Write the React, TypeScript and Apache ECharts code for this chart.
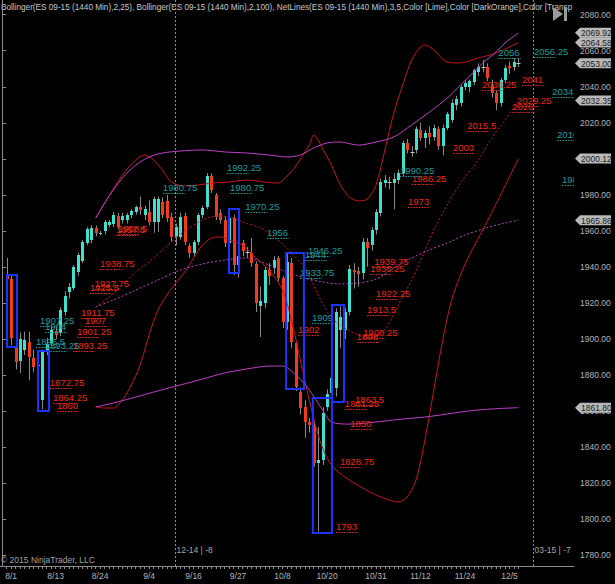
import { useEffect, useRef } from "react";
import * as echarts from "echarts";

// ---------- layout of the time axis ----------
const SLOT_COUNT = 129; // bar slots across the plot width
const FIRST_BAR_SLOT = 1; // slot of the first bar
const DATE_LABELS = ["8/1", "8/13", "8/24", "9/4", "9/16", "9/27", "10/8", "10/20", "10/31", "11/12", "11/24", "12/5"];
const DATE_LABEL_SLOTS = [2, 12, 22, 33, 43, 53, 63, 73, 84, 94, 104, 114];

// ---------- price axis ----------
const Y_MIN = 1773.89;
const Y_MAX = 2088.17;
const Y_TICKS = [1780, 1800, 1820, 1840, 1860, 1880, 1900, 1920, 1940, 1960, 1980, 2000, 2020, 2040, 2060, 2080];

// ---------- daily bars (ES 09-15, back-adjusted) ----------
const OPEN = [1935, 1933, 1896, 1887.5, 1894, 1898, 1889.5, 1885, 1866, 1892.5, 1897.5, 1904.5, 1903, 1915, 1926, 1928.5, 1937, 1943, 1953, 1955,
  1961.5, 1958.5, 1960, 1963, 1964, 1968, 1966, 1966, 1969, 1970.5, 1973, 1969, 1970.5, 1965, 1964.9, 1976, 1976.5, 1967.7, 1957, 1956.6,
  1968.2, 1951.6, 1947.7, 1953.8, 1968.8, 1973, 1990.4, 1979.9, 1969.9, 1966, 1953.2, 1967.1, 1941, 1953, 1948.5, 1947.7, 1941.6, 1918, 1919.9, 1938,
  1939.4, 1944.9, 1933.8, 1909.4, 1942.1, 1897.7, 1870.5, 1862.2, 1853.8, 1852.2, 1831, 1832.7, 1862.2, 1870, 1872.7, 1905, 1905, 1914.9, 1938.2, 1937.7,
  1936.6, 1953.8, 1952, 1960.5, 1970, 1986.5, 1987, 1986.5, 1988.2, 1992, 2008.8, 2003.8, 2004.9, 2016, 2011.5, 2014.3, 2012, 2016.5, 2007, 2017,
  2021.5, 2030, 2031, 2039.8, 2039.8, 2042.6, 2048, 2051, 2051, 2041, 2036.5, 2031, 2043.7, 2051.5, 2051, 2053.2];
const HIGH = [1945, 1935, 1900, 1903.5, 1904, 1904, 1894, 1892, 1894, 1900.5, 1907.5, 1907, 1917.5, 1926.5, 1931, 1941, 1948, 1955, 1962, 1963,
  1963, 1960, 1966, 1966, 1970.5, 1970, 1970, 1970, 1972, 1974, 1979, 1974, 1977, 1979, 1979, 1978.5, 1980, 1970, 1964, 1970,
  1970, 1953, 1955, 1970, 1974, 1992.1, 1992, 1981, 1972, 1968, 1972.1, 1969, 1950, 1955, 1951, 1956, 1943, 1929, 1940, 1942,
  1946, 1946, 1935, 1947.7, 1945, 1899, 1873, 1866, 1856, 1854, 1851, 1862, 1872, 1880, 1917, 1918, 1917, 1941, 1942, 1940,
  1956, 1956, 1962, 1972, 1989, 1991, 1990, 1992, 1994, 2010, 2011, 2007, 2018, 2020, 2016, 2018, 2019, 2018, 2019, 2026,
  2033, 2035, 2041, 2043.5, 2044, 2050, 2053, 2055, 2053, 2044, 2038, 2045, 2052, 2054, 2056, 2056];
const LOW = [1931.5, 1896.5, 1883, 1881, 1891, 1877, 1881.5, 1873, 1861, 1891, 1896, 1900, 1901.5, 1913, 1922.5, 1927, 1935, 1942, 1952, 1953,
  1957, 1957.5, 1958, 1962, 1962, 1961, 1964, 1964, 1967, 1969, 1969, 1966, 1963, 1959, 1959.3, 1967, 1965, 1954, 1952, 1955,
  1952, 1945, 1946, 1952, 1967, 1972, 1981, 1966, 1964, 1951, 1951, 1935.5, 1934, 1946, 1945, 1940, 1914.9, 1901, 1917, 1930,
  1936, 1932, 1906, 1905, 1895, 1871, 1858, 1845, 1848, 1829, 1793, 1830, 1860, 1866, 1868, 1895, 1900, 1913, 1928, 1929,
  1933, 1940, 1949, 1958, 1968, 1984, 1983, 1972, 1986, 1990, 2003, 2001, 2003, 2010, 2006, 2008, 2010, 2005, 2002, 2016,
  2020, 2027, 2029, 2038, 2037, 2041, 2046, 2048, 2043, 2034, 2027, 2029, 2042, 2047, 2049, 2051];
const CLOSE = [1933, 1900.5, 1887, 1900, 1899.5, 1890, 1884.5, 1885.5, 1892.5, 1897, 1905, 1902, 1916, 1924, 1928.8, 1940, 1946.5, 1954, 1961, 1961.5,
  1959, 1958.9, 1965, 1965, 1969, 1962, 1968, 1969, 1971, 1973, 1971.5, 1972, 1965, 1977.5, 1977.7, 1968.8, 1967.1, 1956.6, 1962, 1967.7,
  1953.8, 1947.7, 1953.8, 1968.8, 1972.7, 1990.4, 1982.7, 1967.7, 1966, 1953.2, 1967.1, 1941, 1946, 1949, 1948.3, 1942.1, 1919.9, 1921, 1938.2, 1935,
  1943.8, 1933.8, 1909.4, 1942.7, 1898.3, 1873.3, 1861.6, 1853.8, 1852.2, 1831, 1832.7, 1858.8, 1869.4, 1878.3, 1914.9, 1912, 1914.9, 1938.8, 1937.1, 1936,
  1953.8, 1950.5, 1960.5, 1970.5, 1987.1, 1988.2, 1987.3, 1988.5, 1992.1, 2008.8, 2004.9, 2004, 2016.5, 2011.5, 2014.3, 2012.1, 2017, 2007.1, 2017, 2024.9,
  2031, 2033, 2039.8, 2042, 2043, 2049.3, 2051, 2051.2, 2045, 2036.5, 2031, 2043.7, 2050.4, 2050.4, 2053.7, 2053];

// ---------- Bollinger(25) and Bollinger(100): [slot, value] ----------
const BB25_UPPER = [[21, 1967.1], [24, 1979.3], [27, 1991.0], [30, 1999.3], [32, 2002.1], [34, 1999.3], [36, 1993.8], [38, 1987.1], [41, 1984.9], [44, 1985.4], [47, 1986.5], [51, 1987.1], [55, 1988.2], [59, 1987.1], [62, 1986.5], [64, 1990.4], [66, 1996.0], [68, 2003.8], [69, 2007.6], [70, 2013.2], [71, 2010.4], [72, 2005.5], [74, 1996.5], [76, 1985.4], [78, 1978.8], [80, 1976.6], [82, 1977.6], [84, 1985.4], [86, 2004.9], [88, 2025.4], [90, 2040.9], [92, 2054.8], [94, 2062.1], [95, 2063.2], [97, 2060.4], [100, 2053.7], [103, 2053.2], [107, 2056.0], [111, 2058.7], [116, 2064.58]];
const BB25_MID = [[21, 1917.7], [24, 1923.3], [27, 1929.9], [30, 1937.1], [33, 1942.7], [36, 1949.4], [39, 1956.0], [42, 1961.6], [45, 1966.0], [48, 1968.2], [51, 1967.7], [54, 1964.9], [58, 1961.6], [62, 1954.9], [65, 1947.7], [68, 1939.4], [71, 1924.4], [74, 1911.6], [77, 1906.0], [80, 1902.2], [83, 1900.5], [86, 1904.9], [89, 1918.8], [92, 1932.7], [95, 1949.4], [97, 1960.5], [100, 1974.3], [103, 1986.5], [107, 1999.3], [110, 2011.5], [113, 2021.5], [116, 2032.35]];
const BB25_LOWER = [[21, 1862.2], [23, 1861.6], [25, 1861.6], [27, 1866.1], [29, 1874.4], [31, 1885.5], [33, 1902.2], [35, 1916.0], [37, 1924.4], [39, 1931.0], [41, 1937.1], [43, 1944.9], [45, 1952.1], [47, 1956.0], [49, 1956.6], [51, 1954.9], [54, 1952.1], [57, 1944.9], [60, 1938.2], [63, 1927.1], [65, 1910.5], [67, 1888.3], [69, 1866.1], [71, 1846.6], [73, 1833.9], [75, 1827.2], [78, 1821.6], [81, 1817.2], [84, 1813.3], [87, 1810.5], [89, 1809.4], [91, 1812.2], [93, 1821.6], [95, 1843.9], [97, 1871.6], [99, 1899.4], [101, 1921.6], [103, 1935.5], [105, 1946.6], [108, 1960.5], [112, 1979.9], [116, 2000.12]];
const BB100_UPPER = [[21, 1967.1], [24, 1979.3], [27, 1989.3], [30, 1996.5], [33, 2001.0], [36, 2003.2], [40, 2004.3], [45, 2004.9], [50, 2003.8], [55, 2003.2], [60, 2002.1], [64, 2001.0], [67, 2002.1], [70, 2006.0], [73, 2008.8], [76, 2009.3], [80, 2007.6], [84, 2009.3], [88, 2012.1], [92, 2018.8], [96, 2026.0], [100, 2033.7], [103, 2041.0], [106, 2048.2], [108, 2053.2], [111, 2059.3], [113, 2064.3], [116, 2069.92]];
const BB100_MID = [[21, 1917.7], [25, 1921.6], [30, 1927.1], [35, 1932.7], [40, 1938.2], [45, 1941.6], [50, 1943.8], [55, 1944.9], [60, 1941.0], [64, 1937.1], [68, 1933.8], [72, 1931.6], [76, 1930.5], [80, 1931.0], [84, 1933.2], [88, 1939.4], [92, 1944.9], [96, 1949.4], [100, 1953.2], [104, 1957.7], [108, 1961.0], [112, 1963.8], [116, 1965.86]];
const BB100_LOWER = [[21, 1862.2], [25, 1864.4], [30, 1867.7], [35, 1871.1], [40, 1874.4], [45, 1877.7], [50, 1881.1], [55, 1883.3], [60, 1884.9], [63, 1884.9], [66, 1879.9], [69, 1871.6], [72, 1860.5], [74, 1853.8], [78, 1852.7], [82, 1853.3], [86, 1854.4], [90, 1855.5], [95, 1856.6], [100, 1858.3], [105, 1860.0], [110, 1861.1], [116, 1861.80]];

// ---------- NetLines: [start slot, price] ----------
const NET_RED = [[10.7, 1872.75], [11.4, 1864.25], [12.3, 1860], [15.9, 1893.25], [16.8, 1901.25], [18.6, 1907], [17.7, 1911.75], [19.7, 1925.5], [20.8, 1927.75], [22.0, 1938.75], [26.0, 1958.5], [25.6, 1957.5], [66.5, 1902], [79.3, 1863.5], [77.0, 1861.25], [78.2, 1850], [75.9, 1828.75], [75.0, 1793], [81.1, 1900.25], [79.7, 1898], [82.0, 1913.5], [84.0, 1922.25], [83.6, 1939.75], [82.7, 1936.25], [91.2, 1973], [92.1, 1986.25], [101.3, 2003], [104.5, 2015.5], [114.6, 2026], [115.7, 2029.25], [116.8, 2041], [107.8, 2038.25]];
const NET_TEAL = [[8.5, 1907.25], [9.6, 1904], [7.6, 1895.5], [9.6, 1893.25], [36.1, 1980.75], [51.2, 1980.75], [50.5, 1992.25], [54.6, 1970.25], [59.5, 1956], [68.7, 1946.25], [68.0, 1944], [66.9, 1933.75], [69.6, 1909], [89.4, 1990.25], [111.5, 2056], [119.5, 2056.25], [123.6, 2034.25], [124.7, 2010.25], [125.8, 1985.5]];

// ---------- drawn rectangles: [slot from, slot to, top price, bottom price] ----------
const BOXES = [[1.07, 3.32, 1935.5, 1895.5], [8.04, 10.5, 1893.3, 1860], [50.96, 53.2, 1972.1, 1936.6], [63.8, 67.8, 1947.7, 1872.2], [69.8, 74.1, 1867.2, 1792.2], [74.1, 76.8, 1918.8, 1865]];

// ---------- contract rollovers ----------
const ROLLOVER_SLOTS = [38.9, 119.3];
const ROLLOVER_TEXT = ["12-14 | -8", "03-15 | -7"];

const HEADER = "Bollinger(ES 09-15 (1440 Min),2,25), Bollinger(ES 09-15 (1440 Min),2,100), NetLines(ES 09-15 (1440 Min),3,5,Color [Lime],Color [DarkOrange],Color [Transparent]";

const FONT = "'Liberation Sans', Arial, sans-serif";
const NARROW = "'Liberation Sans Narrow', 'Liberation Sans', Arial, sans-serif";
const UP = "#40e0cc";
const DOWN = "#f03c1c";
const WICK = "#8a8a8a";
const RED_BB = "#c8141e";
const MAG_BB = "#c040c8";
const NET_RED_C = "#f02814";
const NET_TEAL_C = "#1e9c9c";
const AXIS_C = "#8c8c8c";
const LABEL_C = "#b4b4b4";

const last = (a: number[][]) => a[a.length - 1][1];
const MARKERS = [last(BB100_UPPER), last(BB25_UPPER), CLOSE[CLOSE.length - 1], last(BB25_MID), last(BB25_LOWER), last(BB100_MID), last(BB100_LOWER)];

const categories = Array.from({ length: SLOT_COUNT }, (_, i) => {
  const k = DATE_LABEL_SLOTS.indexOf(i);
  return k >= 0 ? DATE_LABELS[k] : "";
});

function renderCandle(_p: any, api: any) {
  const s = api.value(0);
  const o = api.value(1), c = api.value(2), l = api.value(3), h = api.value(4);
  const pH = api.coord([s, h]), pL = api.coord([s, l]), pO = api.coord([s, o]), pC = api.coord([s, c]);
  const cx = Math.round(pH[0]) + 0.5;
  const top = Math.round(Math.min(pO[1], pC[1]));
  const bot = Math.round(Math.max(pO[1], pC[1]));
  const kids: any[] = [{ type: "line", shape: { x1: cx, y1: pH[1], x2: cx, y2: pL[1] }, style: { stroke: WICK, lineWidth: 1 } }];
  if (bot - top < 1) {
    kids.push({ type: "line", shape: { x1: cx - 2, y1: top + 0.5, x2: cx + 2, y2: top + 0.5 }, style: { stroke: "#c8c8c8", lineWidth: 1 } });
  } else {
    kids.push({ type: "rect", shape: { x: cx - 1.5, y: top, width: 3, height: bot - top }, style: { fill: c > o ? UP : DOWN } });
  }
  return { type: "group", children: kids };
}

function netRenderer(color: string) {
  return (_p: any, api: any) => {
    const s = api.value(0), v = api.value(1);
    const a = api.coord([s, v]);
    const b = api.coord([s + 5, v]);
    const y = Math.round(a[1]) + 0.5;
    return {
      type: "group",
      children: [
        { type: "line", shape: { x1: a[0], y1: y, x2: b[0], y2: y }, style: { stroke: color, lineWidth: 1.2, lineDash: [1.5, 1.2] } },
        { type: "text", x: a[0], y: y - 1, style: { text: String(v), fill: color, font: `9.5px ${FONT}`, verticalAlign: "bottom", align: "left" } },
      ],
    };
  };
}

function renderBox(_p: any, api: any) {
  const p1 = api.coord([api.value(0), api.value(2)]);
  const p2 = api.coord([api.value(1), api.value(3)]);
  return { type: "rect", shape: { x: p1[0], y: p1[1], width: p2[0] - p1[0], height: p2[1] - p1[1] }, style: { fill: "none", stroke: "#1c34ff", lineWidth: 2 } };
}

function renderRollover(p: any, api: any) {
  const s = api.value(0);
  const t = api.coord([s, Y_MAX]);
  const b = api.coord([s, Y_MIN]);
  const x = Math.round(t[0]) + 0.5;
  return {
    type: "group",
    children: [
      { type: "line", shape: { x1: x, y1: t[1], x2: x, y2: b[1] }, style: { stroke: "#8c8c8c", lineWidth: 1, lineDash: [2, 2] } },
      { type: "text", x: x + 1, y: b[1] - 12, style: { text: ROLLOVER_TEXT[p.dataIndex], fill: "#a8a8a8", font: `8.5px ${NARROW}`, verticalAlign: "bottom" } },
    ],
  };
}

function renderMarker(_p: any, api: any) {
  const v = api.value(1);
  const p = api.coord([SLOT_COUNT - 0.5, v]);
  const x0 = p[0] + 1;
  const y = p[1];
  return {
    type: "group",
    children: [
      { type: "polygon", shape: { points: [[x0, y], [x0 + 5, y - 5], [x0 + 36, y - 5], [x0 + 36, y + 5], [x0 + 5, y + 5]] }, style: { fill: "#b8b8b8" } },
      { type: "text", x: x0 + 6, y: y + 0.5, style: { text: v.toFixed(2), fill: "#202020", font: `8.5px ${FONT}`, verticalAlign: "middle" } },
    ],
  };
}

function bbLine(data: number[][], color: string, dotted: boolean) {
  return {
    type: "line", xAxisIndex: 1, yAxisIndex: 0, data, symbol: "none", smooth: 0.3, silent: true, z: 3,
    lineStyle: { color, width: 1, type: dotted ? [2, 2] : "solid" },
  };
}

export default function App() {
  const ref = useRef<HTMLDivElement>(null);
  useEffect(() => {
    const chart = echarts.init(ref.current!, null, { renderer: "svg" });
    const option: any = {
      animation: false,
      backgroundColor: "#000000",
      grid: { left: 0, right: 41, top: 0, bottom: 18, containLabel: false },
      xAxis: [
        {
          type: "category", data: categories, boundaryGap: true,
          axisLine: { show: true, lineStyle: { color: AXIS_C, width: 1 } },
          axisTick: { show: true, alignWithLabel: true, length: 3, lineStyle: { color: AXIS_C },
            interval: (i: number) => i >= FIRST_BAR_SLOT && i < FIRST_BAR_SLOT + OPEN.length },
          axisLabel: { interval: (_i: number, v: string) => v !== "", color: LABEL_C, fontSize: 8.5, fontFamily: NARROW, margin: 5 },
          splitLine: { show: false },
        },
        { type: "value", min: -0.5, max: SLOT_COUNT - 0.5, show: false },
      ],
      yAxis: [{
        type: "value", position: "right", min: Y_MIN, max: Y_MAX, scale: true,
        axisLine: { show: true, lineStyle: { color: AXIS_C } },
        axisTick: { show: true, length: 4, lineStyle: { color: AXIS_C }, customValues: Y_TICKS },
        axisLabel: { color: LABEL_C, fontSize: 8.5, fontFamily: NARROW, margin: 6, customValues: Y_TICKS, formatter: (v: number) => v.toFixed(2) },
        splitLine: { show: false },
      }],
      series: [
        { type: "custom", name: "rollover", xAxisIndex: 1, data: ROLLOVER_SLOTS.map((s) => [s, Y_MIN]), renderItem: renderRollover, silent: true, z: 1 },
        { type: "custom", name: "bars", xAxisIndex: 1, data: OPEN.map((o, i) => [FIRST_BAR_SLOT + i, o, CLOSE[i], LOW[i], HIGH[i]]), renderItem: renderCandle, silent: true, z: 2 },
        bbLine(BB25_UPPER, RED_BB, false),
        bbLine(BB25_MID, RED_BB, true),
        bbLine(BB25_LOWER, RED_BB, false),
        bbLine(BB100_UPPER, MAG_BB, false),
        bbLine(BB100_MID, MAG_BB, true),
        bbLine(BB100_LOWER, MAG_BB, false),
        { type: "custom", name: "netRed", xAxisIndex: 1, data: NET_RED, renderItem: netRenderer(NET_RED_C), clip: true, silent: true, z: 4 },
        { type: "custom", name: "netTeal", xAxisIndex: 1, data: NET_TEAL, renderItem: netRenderer(NET_TEAL_C), clip: true, silent: true, z: 4 },
        { type: "custom", name: "boxes", xAxisIndex: 1, data: BOXES, renderItem: renderBox, silent: true, z: 5 },
        { type: "custom", name: "markers", xAxisIndex: 1, data: MARKERS.map((v) => [SLOT_COUNT - 1, v]), renderItem: renderMarker, clip: false, silent: true, z: 6 },
      ],
      graphic: [
        { type: "text", left: 1, top: 3, silent: true, style: { text: HEADER, fill: "#c8c8c8", font: `8.2px ${NARROW}`, width: 574, overflow: "truncate", ellipsis: "" } },
        { type: "text", left: 1, top: 555, silent: true, style: { text: "© 2015 NinjaTrader, LLC", fill: "#a0a0a0", font: `8.5px ${NARROW}` } },
        { type: "polygon", silent: true, shape: { points: [[553, 7], [563, 14], [553, 21]] }, style: { fill: "#9a9a9a" } },
        { type: "rect", silent: true, shape: { x: 564, y: 7, width: 3, height: 14 }, style: { fill: "#9a9a9a" } },
      ],
    };
    chart.setOption(option);
    return () => chart.dispose();
  }, []);
  return <div ref={ref} style={{ position: "absolute", left: 0, top: 0, width: 615, height: 584, background: "#000" }} />;
}
